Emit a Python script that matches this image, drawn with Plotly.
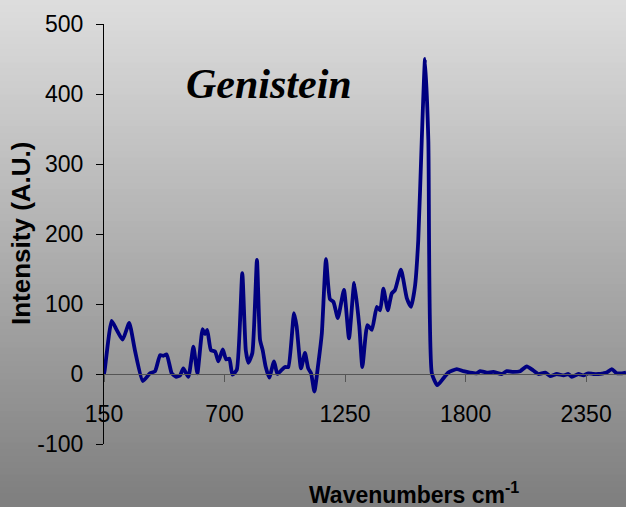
import plotly.graph_objects as go

wavenumbers = [150, 153, 185, 208, 235, 265, 291, 327, 360, 383, 406, 421, 436, 459, 479, 497, 512, 535,
               558, 576, 600, 611, 621, 638, 657, 672, 692, 707, 722, 736, 756, 781, 797, 809, 827, 848,
               862, 874, 888, 904, 926, 941, 961, 976, 991, 1017, 1029, 1049, 1067, 1082, 1095, 1110,
               1128, 1144, 1163, 1181, 1197, 1217, 1245, 1268, 1292, 1315, 1329, 1352, 1372, 1395, 1410,
               1425, 1445, 1463, 1478, 1505, 1532, 1551, 1569, 1584, 1600, 1615, 1630, 1646, 1671, 1699,
               1721, 1760, 1790, 1820, 1851, 1866, 1897, 1927, 1965, 1988, 2018, 2049, 2079, 2109, 2132,
               2163, 2186, 2216, 2247, 2269, 2285, 2315, 2338, 2360, 2383, 2406, 2429, 2444, 2467, 2490,
               2514, 2532]
intensity = [0, 5, 76, 63, 49, 73, 34, -10, 1, 4, 27, 26, 28, 1, -4, -2, 8, -4,
             39, 1, 64, 57, 63, 34, 32, 18, 35, 21, 22, -1, 6, 144, 34, 16, 30, 163,
             49, 34, 10, -5, 18, 0, 6, 10, 10, 87, 68, 8, 30, 8, 1, -25,
             15, 58, 164, 107, 103, 80, 120, 51, 130, 68, 10, 70, 63, 96, 91,
             122, 91, 115, 120, 149, 108, 96, 125, 191, 334, 450, 334, 1, -16, -6,
             2, 7, 4, 2, 1, 4, 2, 3, 0, 4, 3, 4, 11, 5, 0,
             2, -3, 0, -2, 0, -4, 0, -2, 1, 0, 0, 1, 2, 7, 1,
             1, 2]

x_ticks = [150, 700, 1250, 1800, 2350]
y_ticks = [-100, 0, 100, 200, 300, 400, 500]
y_tick_labels = ["-100", "0", "100", "200", "300", "400", "500"]

W, H = 626, 507
L, R, T, B = 104, 0, 24, 63
pw, ph = W - L - R, H - T - B

fig = go.Figure()
fig.add_trace(go.Scatter(
    x=wavenumbers, y=intensity, mode="lines",
    line=dict(color="#000080", width=3.8, shape="spline", smoothing=0.5),
    showlegend=False, hoverinfo="skip"))

# gradient background via stacked strips
shapes = []
n = 80
top_c, bot_c = 222, 126
y_top = (H - B - 0) / ph
y_bot = (H - B - H) / ph
x_left = -L / pw
x_right = 1.0 + R / pw
for i in range(n):
    y0 = y_top + (y_bot - y_top) * i / n
    y1 = y_top + (y_bot - y_top) * (i + 1) / n
    c = round(top_c + (bot_c - top_c) * (i + 0.5) / n)
    shapes.append(dict(type="rect", xref="paper", yref="paper",
                       x0=x_left, x1=x_right, y0=y1 - 0.002, y1=y0 + 0.002,
                       fillcolor=f"rgb({c},{c},{c})", line=dict(width=0), layer="below"))

fig.update_layout(
    width=W, height=H,
    margin=dict(l=L, r=R, t=T, b=B),
    paper_bgcolor="rgb(170,170,170)",
    plot_bgcolor="rgba(0,0,0,0)",
    shapes=shapes,
    font=dict(family="Liberation Sans, Arial, sans-serif", size=23, color="black"),
    xaxis=dict(range=[150, 2532], tickvals=x_ticks, ticktext=[str(v) for v in x_ticks],
               showgrid=False, zeroline=False, showline=True, linecolor="#555555", linewidth=1,
               ticks="outside", ticklen=7, tickcolor="#555555", anchor="free",
               position=100 / 600, ticklabelstandoff=12),
    yaxis=dict(range=[-100, 500], tickvals=y_ticks, ticktext=y_tick_labels, showgrid=False,
               zeroline=False, showline=True, linecolor="black", linewidth=1, ticks="outside",
               ticklen=7, tickcolor="black", ticklabelstandoff=8),
    annotations=[
        dict(text="<b><i>Genistein</i></b>", xref="paper", yref="paper",
             x=(269 - L) / pw, y=(H - B - 84) / ph, showarrow=False,
             font=dict(family="Liberation Serif, Times New Roman, serif", size=42, color="black"),
             xanchor="center", yanchor="middle"),
        dict(text="<b>Intensity (A.U.)</b>", xref="paper", yref="paper",
             x=(21 - L) / pw, y=0.5, textangle=-90, showarrow=False,
             font=dict(size=26, color="black"), xanchor="center", yanchor="middle"),
        dict(text="<b>Wavenumbers cm<sup>-1</sup></b>", xref="paper", yref="paper",
             x=(414 - L) / pw, y=(H - B - 493) / ph, showarrow=False,
             font=dict(size=23, color="black"), xanchor="center", yanchor="middle"),
    ],
)

fig.write_html("out.html", config={"displayModeBar": False},
               post_script="document.body.style.margin='0px';document.body.style.overflow='hidden';")
